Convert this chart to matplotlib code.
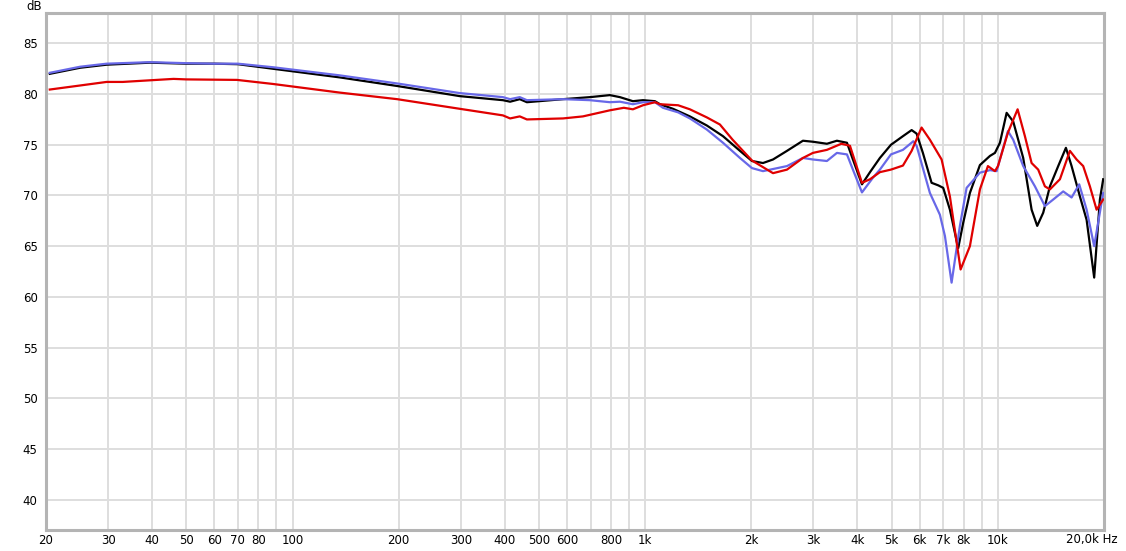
import numpy as np
import matplotlib
matplotlib.use("Agg")
import matplotlib.pyplot as plt

# frequency response data (Hz, dB)
freq_black = [20.5, 25, 29.7, 39.4, 50, 60, 70, 88, 100, 136, 198, 298, 395, 414, 441, 462,
              585, 697, 794, 848, 923, 986, 1066, 1101, 1199, 1339, 1496, 1662, 1857, 2008,
              2158, 2304, 2524, 2801, 2990, 3276, 3497, 3734, 3882, 4118, 4340, 4630, 4976,
              5382, 5696, 5884, 6130, 6488, 6776, 7000, 7313, 7720, 7976, 8333, 8896, 9498,
              9813, 10138, 10591, 11055, 11802, 12466, 12932, 13449, 14050, 14832, 15597,
              16186, 17090, 17854, 18758, 19471, 19894]
db_black = [82.0, 82.6, 82.9, 83.1, 83.0, 83.0, 82.95, 82.5, 82.25, 81.65, 80.8, 79.8, 79.4,
            79.25, 79.5, 79.2, 79.5, 79.7, 79.9, 79.7, 79.3, 79.4, 79.3, 79.0, 78.55, 77.8,
            76.9, 75.85, 74.4, 73.4, 73.2, 73.55, 74.4, 75.4, 75.3, 75.1, 75.4, 75.2, 73.55,
            71.1, 72.3, 73.7, 75.0, 75.85, 76.45, 76.1, 74.2, 71.25, 71.0, 70.75, 68.6, 64.8,
            67.3, 70.25, 73.0, 73.9, 74.2, 75.2, 78.15, 77.3, 73.7, 68.6, 67.0, 68.3, 70.9,
            72.9, 74.7, 72.9, 69.9, 67.6, 61.9, 69.6, 71.6]

freq_red = [20.5, 25, 29.7, 33, 46, 50, 69.6, 88, 136, 198, 298, 395, 414, 441, 462, 585,
            666, 794, 870, 923, 986, 1066, 1101, 1240, 1339, 1496, 1629, 1770, 2008, 2304,
            2524, 2801, 2990, 3276, 3600, 3808, 4118, 4340, 4630, 4976, 5382, 5696, 6078,
            6417, 6927, 7313, 7842, 8333, 8896, 9373, 9813, 10008, 10681, 11378, 11933,
            12466, 13016, 13598, 14050, 14999, 16008, 16724, 17460, 18240, 19055, 19894]
db_red = [80.45, 80.85, 81.2, 81.2, 81.5, 81.45, 81.4, 81.0, 80.15, 79.5, 78.55, 77.9, 77.6,
          77.8, 77.5, 77.6, 77.8, 78.4, 78.65, 78.5, 78.9, 79.2, 79.0, 78.9, 78.5, 77.7,
          77.0, 75.5, 73.45, 72.2, 72.55, 73.7, 74.2, 74.5, 75.1, 74.9, 71.25, 71.6, 72.3,
          72.55, 72.95, 74.4, 76.7, 75.5, 73.55, 69.9, 62.7, 65.0, 70.6, 72.9, 72.4, 72.9,
          76.2, 78.5, 75.85, 73.2, 72.55, 70.9, 70.6, 71.6, 74.4, 73.55, 72.9, 70.9, 68.6,
          69.6]

freq_blue = [20.5, 25, 29.7, 39.4, 50, 60, 70, 88, 136, 198, 298, 395, 414, 441, 462, 585,
             697, 794, 848, 923, 986, 1066, 1123, 1240, 1339, 1496, 1662, 1857, 2008, 2158,
             2524, 2801, 2990, 3276, 3497, 3734, 3882, 4118, 4424, 4630, 4976, 5382, 5760,
             5884, 6417, 6850, 7079, 7394, 7806, 8155, 8896, 9498, 9922, 10681, 11055, 11802,
             12740, 13598, 14356, 15324, 16186, 17012, 17854, 18758, 19894]
db_blue = [82.1, 82.7, 83.0, 83.15, 83.05, 83.0, 83.0, 82.65, 81.85, 81.05, 80.1, 79.7, 79.5,
           79.7, 79.4, 79.5, 79.4, 79.2, 79.25, 79.0, 79.2, 79.2, 78.65, 78.2, 77.6, 76.5,
           75.2, 73.7, 72.7, 72.4, 72.9, 73.7, 73.55, 73.4, 74.2, 74.05, 72.55, 70.3, 71.75,
           72.55, 74.05, 74.5, 75.35, 74.9, 70.25, 68.1, 66.0, 61.4, 67.0, 70.75, 72.25,
           72.5, 72.4, 76.35, 75.5, 72.9, 70.9, 68.95, 69.6, 70.4, 69.8, 71.1, 68.6, 65.0,
           70.25]

grid_freqs = [30, 40, 50, 60, 70, 80, 90, 100, 200, 300, 400, 500, 600, 700, 800, 900,
              1000, 2000, 3000, 4000, 5000, 6000, 7000, 8000, 9000, 10000]
label_freqs = [20, 30, 40, 50, 60, 70, 80, 100, 200, 300, 400, 500, 600, 800,
               1000, 2000, 3000, 4000, 5000, 6000, 7000, 8000, 10000]
label_text = ["20", "30", "40", "50", "60", "70", "80", "100", "200", "300", "400", "500",
              "600", "800", "1k", "2k", "3k", "4k", "5k", "6k", "7k", "8k", "10k"]
y_ticks = [40, 45, 50, 55, 60, 65, 70, 75, 80, 85]

fig = plt.figure(figsize=(11.26, 5.51), dpi=100)
ax = fig.add_axes([46/1126, 21/551, 1058/1126, 517/551])
ax.set_xscale("log")
ax.set_xlim(20, 20000)
ax.set_ylim(37, 88)

# grid drawn by hand so it stays exactly on the listed frequencies
for f in grid_freqs:
    ax.axvline(f, color="#dedede", lw=1.4, zorder=1)
for y in y_ticks:
    ax.axhline(y, color="#dedede", lw=1.4, zorder=1)

ax.plot(freq_black, db_black, color="black", lw=1.6, zorder=3)
ax.plot(freq_blue, db_blue, color="#6868e8", lw=1.6, zorder=4)
ax.plot(freq_red, db_red, color="#e00000", lw=1.6, zorder=5)

ax.xaxis.set_major_locator(matplotlib.ticker.FixedLocator(label_freqs))
ax.xaxis.set_major_formatter(matplotlib.ticker.FixedFormatter(label_text))
ax.xaxis.set_minor_locator(matplotlib.ticker.NullLocator())
ax.set_yticks(y_ticks)
ax.tick_params(axis="both", length=0, labelsize=8.5, colors="black")
ax.tick_params(axis="x", pad=3)
ax.tick_params(axis="y", pad=6)

for s in ax.spines.values():
    s.set_color("#b4b4b4")
    s.set_linewidth(2.2)

ax.text(1.0132, -0.0193, "20,0k Hz", transform=ax.transAxes, ha="right", va="center",
        fontsize=8.5)
ax.text(-0.004, 1.013, "dB", transform=ax.transAxes, ha="right", va="center", fontsize=8.5)

fig.savefig("out.png", dpi=100)
